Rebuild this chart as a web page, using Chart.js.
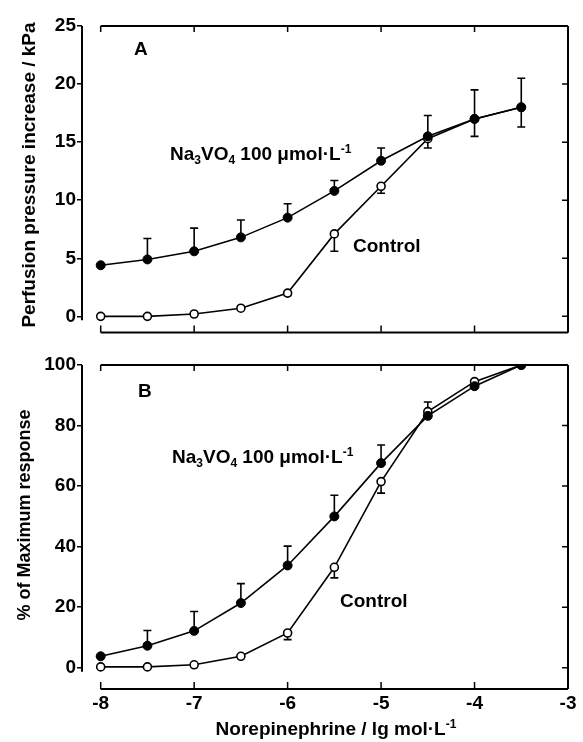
<!DOCTYPE html>
<html>
<head>
<meta charset="utf-8">
<script src="https://cdn.jsdelivr.net/npm/chart.js@4.4.1/dist/chart.umd.min.js"></script>
<style>
  html, body { margin: 0; padding: 0; background: #fff; }
  #wrap { position: relative; width: 583px; height: 742px; }
  canvas { position: absolute; left: 0; }
  #chartA { top: 0; }
  #chartB { top: 345px; }
</style>
</head>
<body>
<div id="wrap">
  <canvas id="chartA" width="583" height="345"></canvas>
  <canvas id="chartB" width="583" height="397"></canvas>
</div>
<script>
// log dose of norepinephrine (lg mol/L)
const DOSES   = [-8, -7.5, -7, -6.5, -6, -5.5, -5, -4.5, -4, -3.5];
const X_TICKS = [-8, -7, -6, -5, -4, -3];

// Panel A : perfusion pressure increase (kPa)
const A_TICKS        = [0, 5, 10, 15, 20, 25];
const A_VANADATE     = [4.4, 4.9, 5.6, 6.8, 8.5, 10.8, 13.4, 15.5, 17.0, 18.0];
const A_VANADATE_SEM = [0, 1.8, 2.0, 1.5, 1.2, 0.9, 1.1, 1.8, 2.5, 2.5];
const A_CONTROL      = [0.0, 0.0, 0.2, 0.7, 2.0, 7.1, 11.2, 15.3, 17.0, 18.0];
const A_CONTROL_SEM  = [0, 0, 0, 0, 0.2, 1.5, 0.6, 0.8, 1.5, 1.7];

// Panel B : % of maximum response
const B_TICKS        = [0, 20, 40, 60, 80, 100];
const B_VANADATE     = [3.8, 7.3, 12.2, 21.4, 33.8, 50.0, 67.6, 83.2, 93.0, 100];
const B_VANADATE_SEM = [0, 5.0, 6.4, 6.4, 6.4, 7.0, 6.0, 4.6, 0, 0];
const B_CONTROL      = [0.3, 0.3, 1.0, 3.8, 11.5, 33.2, 61.5, 84.6, 94.5, 100];
const B_CONTROL_SEM  = [0, 0, 0, 0, 2.2, 3.5, 3.8, 0, 0, 0];

const FAMILY = "'Liberation Sans', Arial, sans-serif";
Chart.defaults.font.family = FAMILY;
Chart.defaults.font.weight = 'bold';
Chart.defaults.font.size = 19;
Chart.defaults.color = '#000';

const points = (ys) => DOSES.map((x, i) => ({ x, y: ys[i] }));

// rich text: [text, ''|'sub'|'sup']
function drawRich(ctx, parts, x, y, size, align) {
  const big = `bold ${size}px ${FAMILY}`;
  const small = `bold ${Math.round(size * 0.62)}px ${FAMILY}`;
  let w = 0;
  parts.forEach(([t, m]) => { ctx.font = m ? small : big; w += ctx.measureText(t).width; });
  let cx = align === 'center' ? x - w / 2 : x;
  ctx.textAlign = 'left';
  ctx.textBaseline = 'middle';
  parts.forEach(([t, m]) => {
    ctx.font = m ? small : big;
    const dy = m === 'sub' ? size * 0.3 : m === 'sup' ? -size * 0.3 : 0;
    ctx.fillText(t, cx, y + dy);
    cx += ctx.measureText(t).width;
  });
}

const NA_LABEL = [['Na', ''], ['3', 'sub'], ['VO', ''], ['4', 'sub'], [' 100 μmol·L', ''], ['-1', 'sup']];

// error bars under the markers
const errorBars = {
  id: 'errorBars',
  beforeDatasetsDraw(chart) {
    const { ctx } = chart;
    const xs = chart.scales.x, ys = chart.scales.y;
    ctx.save();
    ctx.strokeStyle = '#000';
    ctx.lineWidth = 1.6;
    chart.data.datasets.forEach(ds => {
      ds.data.forEach((p, j) => {
        const e = ds.sem[j];
        if (!e) return;
        const x = xs.getPixelForValue(p.x);
        const y0 = ys.getPixelForValue(p.y);
        const y1 = ys.getPixelForValue(p.y + ds.errDir * e);
        ctx.beginPath();
        ctx.moveTo(x, y0); ctx.lineTo(x, y1);
        ctx.moveTo(x - 4, y1); ctx.lineTo(x + 4, y1);
        ctx.stroke();
      });
    });
    ctx.restore();
  }
};

// frame with inward ticks + annotations
const frame = {
  id: 'frame',
  afterDraw(chart, args, opts) {
    const { ctx, chartArea: ca } = chart;
    const xs = chart.scales.x, ys = chart.scales.y;
    const x0 = xs.getPixelForValue(X_TICKS[0]);
    ctx.save();
    ctx.strokeStyle = '#000';
    ctx.lineWidth = 2;
    ctx.beginPath();
    ctx.moveTo(ca.left, ca.top); ctx.lineTo(ca.left, ys.getPixelForValue(0) + 4);
    ctx.moveTo(x0, ca.top); ctx.lineTo(ca.right, ca.top);
    ctx.moveTo(x0, ca.bottom); ctx.lineTo(ca.right, ca.bottom);
    ctx.moveTo(ca.right, ca.top); ctx.lineTo(ca.right, ca.bottom);
    ctx.stroke();
    ctx.lineWidth = 1.5;
    ctx.beginPath();
    xs.ticks.forEach(t => {
      const x = xs.getPixelForValue(t.value);
      ctx.moveTo(x, ca.top); ctx.lineTo(x, ca.top + 6);
      ctx.moveTo(x, ca.bottom); ctx.lineTo(x, ca.bottom - 7);
    });
    ys.ticks.forEach(t => {
      const y = ys.getPixelForValue(t.value);
      ctx.moveTo(ca.right, y); ctx.lineTo(ca.right - 6, y);
    });
    ctx.stroke();
    ctx.fillStyle = '#000';
    opts.texts.forEach(t => {
      ctx.save();
      ctx.translate(t.x, t.y);
      if (t.rotate) ctx.rotate(-Math.PI / 2);
      drawRich(ctx, t.parts, 0, 0, t.size, t.align);
      ctx.restore();
    });
    ctx.restore();
  }
};

function makeChart(id, cfg) {
  return new Chart(document.getElementById(id), {
    type: 'line',
    data: {
      datasets: [
        {
          label: 'Na3VO4 100 μmol/L',
          data: points(cfg.vanadate), sem: cfg.vanadateSem, errDir: 1,
          borderColor: '#000', borderWidth: 1.6, tension: 0,
          pointRadius: 4.5, pointBackgroundColor: '#000', pointBorderColor: '#000', pointBorderWidth: 1
        },
        {
          label: 'Control',
          data: points(cfg.control), sem: cfg.controlSem, errDir: -1,
          borderColor: '#000', borderWidth: 1.6, tension: 0,
          pointRadius: 4, pointBackgroundColor: '#fff', pointBorderColor: '#000', pointBorderWidth: 1.6
        }
      ]
    },
    options: {
      responsive: false,
      animation: false,
      devicePixelRatio: 1,
      layout: { padding: { left: 0, right: 15, top: cfg.top, bottom: 0 } },
      plugins: {
        legend: { display: false },
        tooltip: { enabled: false },
        frame: { texts: cfg.texts }
      },
      scales: {
        x: {
          type: 'linear', min: -8.2, max: -3,
          afterBuildTicks: s => { s.ticks = X_TICKS.map(v => ({ value: v })); },
          afterFit: s => { s.height = cfg.xHeight; },
          border: { display: false },
          grid: { display: false, drawTicks: false },
          ticks: { display: cfg.xLabels, padding: 3, font: { size: 19, weight: 'bold' } }
        },
        y: {
          min: cfg.yMin, max: cfg.yMax,
          afterBuildTicks: s => { s.ticks = cfg.yTicks.map(v => ({ value: v })); },
          afterFit: s => { s.width = 82; },
          border: { display: false },
          grid: { drawOnChartArea: false, drawTicks: true, tickLength: 5, color: '#000', lineWidth: 1.5 },
          ticks: { padding: 1, font: { size: 19, weight: 'bold' } }
        }
      }
    },
    plugins: [errorBars, frame]
  });
}

makeChart('chartA', {
  vanadate: A_VANADATE, vanadateSem: A_VANADATE_SEM,
  control: A_CONTROL, controlSem: A_CONTROL_SEM,
  yMin: -1.4, yMax: 25, yTicks: A_TICKS,
  top: 26, xHeight: 5, xLabels: false,
  texts: [
    { parts: [['A', '']], x: 134, y: 50, size: 19 },
    { parts: NA_LABEL, x: 170, y: 155, size: 19 },
    { parts: [['Control', '']], x: 353, y: 247, size: 19 },
    { parts: [['Perfusion pressure increase / kPa', '']], x: 30, y: 175, size: 19, rotate: true, align: 'center' }
  ]
});

makeChart('chartB', {
  vanadate: B_VANADATE, vanadateSem: B_VANADATE_SEM,
  control: B_CONTROL, controlSem: B_CONTROL_SEM,
  yMin: -7, yMax: 100, yTicks: B_TICKS,
  top: 20, xHeight: 53, xLabels: true,
  texts: [
    { parts: [['B', '']], x: 138, y: 47, size: 19 },
    { parts: NA_LABEL, x: 172, y: 113, size: 19 },
    { parts: [['Control', '']], x: 340, y: 257, size: 19 },
    { parts: [['% of Maximum response', '']], x: 25, y: 170, size: 18, rotate: true, align: 'center' },
    { parts: [['Norepinephrine / lg mol·L', ''], ['-1', 'sup']], x: 336, y: 385, size: 19, align: 'center' }
  ]
});
</script>
</body>
</html>
